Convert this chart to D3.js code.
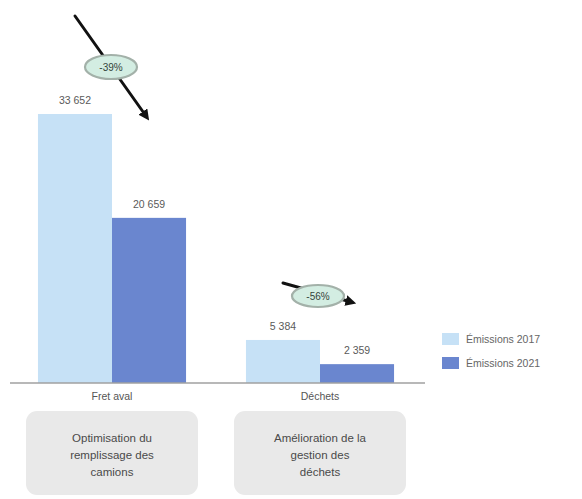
<!DOCTYPE html>
<html>
<head>
<meta charset="utf-8">
<script src="https://cdn.jsdelivr.net/npm/d3@7"></script>
<style>
  html, body { margin: 0; padding: 0; background: #fff; }
  svg { display: block; font-family: "Liberation Sans", Arial, sans-serif; }
</style>
</head>
<body>
<svg id="chart" width="582" height="499"></svg>
<script>
// Emission categories and series
const categories = ["Fret aval", "Déchets"];
const seriesNames = ["Emissions 2017", "Emissions 2021"];
const values2017 = [33652, 5384];
const values2021 = [20659, 2359];
const changeLabels = ["-39%", "-56%"];
const actionLines = [
  ["Optimisation du", "remplissage des", "camions"],
  ["Amélioration de la", "gestion des", "déchets"]
];

const colors = ["#c6e1f6", "#6a86cf"];
const svg = d3.select("#chart");

const baseY = 383;
const maxBarPx = 269;

const x = d3.scaleBand()
  .domain(categories)
  .range([8, 424])
  .paddingInner(0.288)
  .paddingOuter(0.144);

const xSeries = d3.scaleBand()
  .domain(seriesNames)
  .range([0, x.bandwidth()])
  .padding(0);

const y = d3.scaleLinear()
  .domain([0, d3.max(values2017)])
  .range([baseY, baseY - maxBarPx]);

const fmt = v => d3.format(",")(v).replace(/,/g, " ");

const rows = categories.map((c, i) => ({
  cat: c,
  vals: [values2017[i], values2021[i]]
}));

// Bars and value labels
const g = svg.append("g");
rows.forEach(r => {
  r.vals.forEach((v, j) => {
    const bx = x(r.cat) + xSeries(seriesNames[j]);
    g.append("rect")
      .attr("x", bx)
      .attr("y", y(v))
      .attr("width", xSeries.bandwidth())
      .attr("height", y(0) - y(v))
      .attr("fill", colors[j]);
    g.append("text")
      .attr("x", bx + xSeries.bandwidth() / 2)
      .attr("y", y(v) - 10)
      .attr("text-anchor", "middle")
      .attr("font-size", 10.5)
      .attr("fill", "#5a5a5a")
      .text(fmt(v));
  });
});

// Baseline axis
const xAxis = d3.axisBottom(x).tickSize(0).tickPadding(10);
const axisG = svg.append("g")
  .attr("transform", `translate(0,${baseY})`)
  .call(xAxis);
axisG.select(".domain").remove();
axisG.append("line")
  .attr("x1", 10).attr("x2", 425)
  .attr("y1", 0).attr("y2", 0)
  .attr("stroke", "#a0a0a0")
  .attr("stroke-width", 1.5);
axisG.selectAll(".tick text")
  .attr("font-size", 10.5)
  .attr("font-family", "Liberation Sans, Arial, sans-serif")
  .attr("fill", "#555");

// Action boxes under each category
categories.forEach((c, i) => {
  const cx = x(c) + x.bandwidth() / 2;
  svg.append("rect")
    .attr("x", cx - 86)
    .attr("y", 411)
    .attr("width", 172)
    .attr("height", 84)
    .attr("rx", 11)
    .attr("fill", "#e9e9e9");
  const t = svg.append("text")
    .attr("text-anchor", "middle")
    .attr("font-size", 11.5)
    .attr("fill", "#4a4a4a");
  actionLines[i].forEach((line, k) => {
    t.append("tspan")
      .attr("x", cx)
      .attr("y", 442 + k * 17)
      .text(line);
  });
});

// Reduction arrows with percentage badges
const defs = svg.append("defs");
defs.append("marker")
  .attr("id", "head")
  .attr("viewBox", "0 0 10 10")
  .attr("refX", 5).attr("refY", 5)
  .attr("markerWidth", 3.6).attr("markerHeight", 3.6)
  .attr("orient", "auto")
  .append("path")
  .attr("d", "M0,0 L10,5 L0,10 z")
  .attr("fill", "#111");

const arrows = [
  { from: [75, 16], to: [146, 116], badge: [111, 67], rx: 26, ry: 12 },
  { from: [283, 283], to: [351, 302], badge: [318, 296], rx: 26, ry: 11 }
];
arrows.forEach((a, i) => {
  svg.append("line")
    .attr("x1", a.from[0]).attr("y1", a.from[1])
    .attr("x2", a.to[0]).attr("y2", a.to[1])
    .attr("stroke", "#111")
    .attr("stroke-width", 3)
    .attr("stroke-linecap", "round")
    .attr("marker-end", "url(#head)");
  svg.append("ellipse")
    .attr("cx", a.badge[0]).attr("cy", a.badge[1])
    .attr("rx", a.rx).attr("ry", a.ry)
    .attr("fill", "#d3ede2")
    .attr("stroke", "#a3b1a9")
    .attr("stroke-width", 2.2);
  svg.append("text")
    .attr("x", a.badge[0]).attr("y", a.badge[1] + 3.5)
    .attr("text-anchor", "middle")
    .attr("font-size", 10)
    .attr("fill", "#34443b")
    .text(changeLabels[i]);
});

// Legend
const legend = svg.append("g").attr("transform", "translate(442,333)");
seriesNames.forEach((s, i) => {
  const row = legend.append("g").attr("transform", `translate(0,${i * 24})`);
  row.append("rect")
    .attr("width", 17).attr("height", 12)
    .attr("fill", colors[i]);
  row.append("text")
    .attr("x", 24).attr("y", 10)
    .attr("font-size", 10.5)
    .attr("fill", "#666")
    .text(s.replace("Emissions", "Émissions"));
});
</script>
</body>
</html>
